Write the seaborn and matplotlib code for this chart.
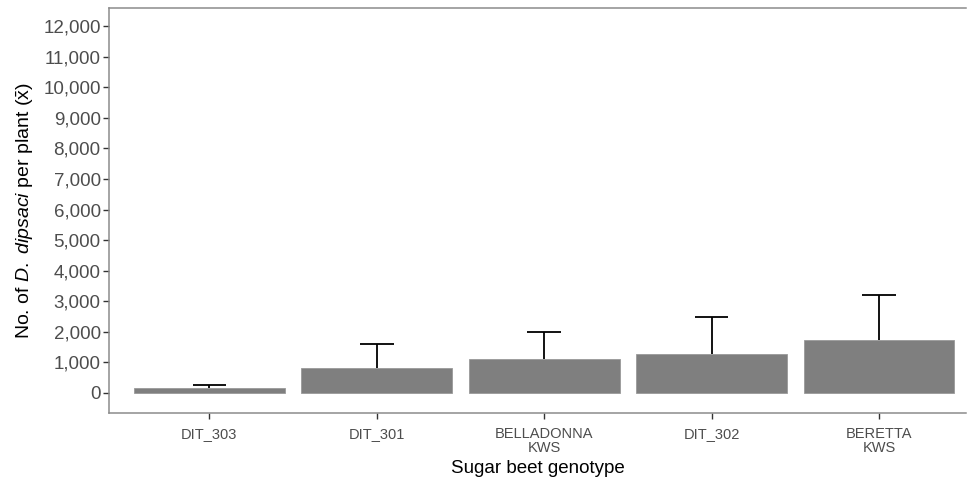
import matplotlib
matplotlib.use("Agg")
import matplotlib.pyplot as plt
import seaborn as sns
import pandas as pd
import numpy as np

genotypes = ["DIT_303", "DIT_301", "BELLADONNA\nKWS", "DIT_302", "BERETTA\nKWS"]
means = [160, 805, 1120, 1285, 1735]
upper = [260, 1590, 2005, 2470, 3215]
yticks = list(range(0, 12001, 1000))

df = pd.DataFrame({"genotype": genotypes, "mean": means, "upper": upper})

sns.set_style("white")
plt.rcParams["font.family"] = ["Liberation Sans", "DejaVu Sans"]
plt.rcParams["mathtext.fontset"] = "custom"
plt.rcParams["mathtext.rm"] = "Liberation Sans"
plt.rcParams["mathtext.it"] = "Liberation Sans:italic"

fig = plt.figure(figsize=(9.67, 4.83), dpi=100)
ax = fig.add_axes([109 / 967, 1 - 412.7 / 483, (966 - 109) / 967, (412.7 - 8) / 483])

sns.barplot(data=df, x="genotype", y="mean", color="#7f7f7f", saturation=1,
            width=0.9, errorbar=None, ax=ax)
for p in ax.patches:
    p.set_edgecolor("#9a9a9a")
    p.set_linewidth(0.6)

# upper-only error bars
x = np.arange(len(genotypes))
ax.vlines(x, df["mean"], df["upper"], color="black", linewidth=1.3)
ax.hlines(df["upper"], x - 0.1, x + 0.1, color="black", linewidth=1.3)

ax.set_xlim(-0.6, 4.52)
ax.set_ylim(-645, 12590)
ax.set_yticks(yticks)
ax.set_yticklabels([f"{v:,}" for v in yticks])

ax.set_xlabel("Sugar beet genotype", fontsize=13.5, color="black", labelpad=4)
ax.set_ylabel(r"No. of $\mathit{D.}$ $\mathit{dipsaci}$ per plant ($\bar{\mathrm{x}}$)",
              fontsize=14, color="black", labelpad=5)

ax.tick_params(axis="y", labelsize=13.5, labelcolor="#4d4d4d", length=4,
               width=1, color="#333333", left=True, pad=2)
ax.tick_params(axis="x", labelsize=10.5, labelcolor="#4d4d4d", length=4,
               width=1, color="#333333", bottom=True, pad=6)
for lab in ax.get_xticklabels():
    lab.set_linespacing(1.0)

for side in ["left", "bottom", "top"]:
    ax.spines[side].set_color("#8c8c8c")
    ax.spines[side].set_linewidth(1.1)
ax.spines["right"].set_visible(False)

fig.savefig("out.png", dpi=100)
